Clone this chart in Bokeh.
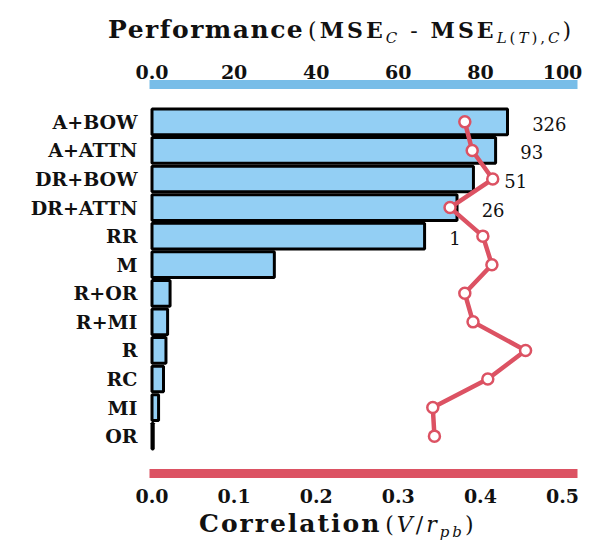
from bokeh.plotting import figure
from bokeh.models import FactorRange, Range1d, LinearAxis, FixedTicker, Div, ColumnDataSource
from bokeh.layouts import column
from bokeh.core.properties import value
from bokeh.embed import file_html
from bokeh.resources import INLINE

# ---- data ----
categories = ["A+BOW", "A+ATTN", "DR+BOW", "DR+ATTN", "RR", "M",
              "R+OR", "R+MI", "R", "RC", "MI", "OR"]
performance = [86.6, 83.7, 78.3, 74.3, 66.4, 29.8, 4.4, 3.8, 3.4, 2.8, 1.6, 0.3]
correlation = [0.381, 0.390, 0.415, 0.363, 0.403, 0.414,
               0.381, 0.391, 0.455, 0.409, 0.342, 0.344]
count_labels = ["326", "93", "51", "26", "1"]
perf_ticks = [0, 20, 40, 60, 80, 100]
perf_tick_labels = ["0.0", "20", "40", "60", "80", "100"]
corr_ticks = [0.0, 0.1, 0.2, 0.3, 0.4, 0.5]
corr_tick_labels = ["0.0", "0.1", "0.2", "0.3", "0.4", "0.5"]

BLUE_FILL = "#93CFF4"
BLUE_AXIS = "#78BDE8"
RED = "#DC5263"
SERIF = "DejaVu Serif"

PERF_START, PERF_END = -0.61, 103.65
CORR_PER_PERF = 1 / 200.0  # bottom axis shares the frame: 0.5 correlation <-> 100 performance

src = ColumnDataSource(dict(cat=categories, perf=performance, corr=correlation))
n_cnt = len(count_labels)


def count_x(pf, c):
    # just right of the bar end; pushed past the correlation marker if it would sit on it
    m = c / CORR_PER_PERF
    return m + 2.8 if pf < m < pf + 8 else pf + 6.0


label_x = [count_x(pf, c) for pf, c in zip(performance[:n_cnt], correlation[:n_cnt])]
cnt_src = ColumnDataSource(dict(cat=categories[:n_cnt], x=label_x, label=count_labels))

p = figure(width=586, height=463,
           y_range=FactorRange(factors=categories[::-1], range_padding=0.808,
                               range_padding_units="absolute"),
           x_range=Range1d(PERF_START, PERF_END), x_axis_location="above",
           output_backend="svg", toolbar_location=None,
           min_border_left=149, min_border_right=9, min_border_top=34, min_border_bottom=40)
p.extra_x_ranges = {"corr": Range1d(PERF_START * CORR_PER_PERF, PERF_END * CORR_PER_PERF)}
p.outline_line_color = None
p.xgrid.visible = False
p.ygrid.visible = False
p.background_fill_color = "white"
p.border_fill_color = "white"

p.hbar(y="cat", left=0, right="perf", height=0.9, source=src,
       fill_color=BLUE_FILL, line_color="black", line_width=3)
p.line(x="corr", y="cat", source=src, x_range_name="corr", line_color=RED, line_width=4.5)
p.scatter(x="corr", y="cat", source=src, x_range_name="corr", size=11,
          fill_color="white", line_color=RED, line_width=2.5)
p.text(x="x", y="cat", text="label", source=cnt_src, y_offset=2,
       text_align="left", text_baseline="middle", text_font=value(SERIF),
       text_font_size="18px", text_color="#111111")

# top axis (performance)
top = p.xaxis[0]
top.ticker = FixedTicker(ticks=perf_ticks)
top.major_label_overrides = {t: l for t, l in zip(perf_ticks, perf_tick_labels)}
top.axis_line_color = BLUE_AXIS
top.axis_line_width = 9
top.major_tick_line_color = None
top.minor_tick_line_color = None
top.major_tick_out = 0
top.major_tick_in = 0
top.major_label_standoff = 6
top.major_label_text_font = SERIF
top.major_label_text_font_style = "bold"
top.major_label_text_font_size = "19px"
top.major_label_text_color = "#111111"

# bottom axis (correlation)
bot = LinearAxis(x_range_name="corr")
bot.ticker = FixedTicker(ticks=corr_ticks)
bot.major_label_overrides = {t: l for t, l in zip(corr_ticks, corr_tick_labels)}
bot.axis_line_color = RED
bot.axis_line_width = 9
bot.major_tick_line_color = None
bot.minor_tick_line_color = None
bot.major_tick_out = 0
bot.major_tick_in = 0
bot.major_label_standoff = 15
bot.major_label_text_font = SERIF
bot.major_label_text_font_style = "bold"
bot.major_label_text_font_size = "19px"
bot.major_label_text_color = "#111111"
p.add_layout(bot, "below")

# left axis (methods)
left = p.yaxis[0]
left.axis_line_color = None
left.major_tick_line_color = None
left.minor_tick_line_color = None
left.major_tick_out = 0
left.major_tick_in = 0
left.major_label_standoff = 12
left.major_label_text_font = SERIF
left.major_label_text_font_style = "bold"
left.major_label_text_font_size = "19px"
left.major_label_text_color = "#111111"

title_top = Div(width=586, height=40, text=(
    '<div style="font-family:\'DejaVu Serif\';color:#111;white-space:nowrap;'
    'margin-left:103px;padding-top:6px;line-height:26px;position:relative;top:6px;">'
    '<span style="font-weight:bold;font-size:25px;letter-spacing:1.5px;">Performance</span> '
    '<span style="font-size:22px;letter-spacing:3px;">(<b>MSE</b><sub style="font-size:15px;"><i>C</i></sub> - '
    '<b>MSE</b><sub style="font-size:15px;"><i>L</i>(<i>T</i>),<i>C</i></sub>)</span></div>'))

title_bot = Div(width=586, height=25, text=(
    '<div style="font-family:\'DejaVu Serif\';color:#111;white-space:nowrap;'
    'margin-left:194px;line-height:26px;position:relative;top:-7px;">'
    '<span style="font-weight:bold;font-size:25px;letter-spacing:2px;">Correlation</span> '
    '<span style="font-size:22px;letter-spacing:3px;">(<i>V</i>/<i>r</i><sub style="font-size:15px;"><i>pb</i></sub>)</span></div>'))

layout = column(title_top, p, title_bot)
open("out.html", "w").write(file_html(layout, INLINE))
